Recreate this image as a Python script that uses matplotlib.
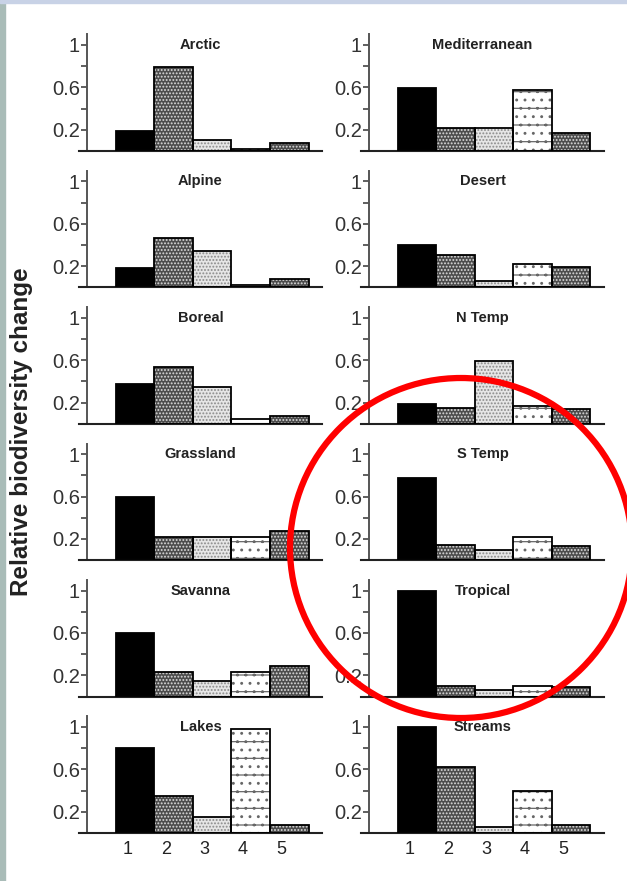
import numpy as np
import matplotlib
matplotlib.use('Agg')
import matplotlib.pyplot as plt
from matplotlib.patches import Ellipse, Rectangle

plt.rcParams['font.family'] = ['Liberation Sans', 'DejaVu Sans']
plt.rcParams['hatch.linewidth'] = 0.9

# panel order: row by row, left then right
biomes = ['Arctic', 'Mediterranean', 'Alpine', 'Desert', 'Boreal', 'N Temp',
          'Grassland', 'S Temp', 'Savanna', 'Tropical', 'Lakes', 'Streams']
drivers = [1, 2, 3, 4, 5]
arctic = [0.19, 0.79, 0.10, 0.02, 0.08]
mediterranean = [0.59, 0.22, 0.22, 0.58, 0.17]
alpine = [0.18, 0.47, 0.34, 0.02, 0.08]
desert = [0.40, 0.31, 0.06, 0.22, 0.19]
boreal = [0.38, 0.54, 0.35, 0.05, 0.07]
n_temp = [0.19, 0.15, 0.59, 0.17, 0.14]
grassland = [0.60, 0.22, 0.22, 0.22, 0.28]
s_temp = [0.78, 0.14, 0.10, 0.22, 0.13]
savanna = [0.60, 0.23, 0.15, 0.23, 0.29]
tropical = [1.0, 0.10, 0.06, 0.10, 0.09]
lakes = [0.80, 0.35, 0.15, 0.98, 0.08]
streams = [1.0, 0.62, 0.06, 0.40, 0.08]
values = [arctic, mediterranean, alpine, desert, boreal, n_temp,
          grassland, s_temp, savanna, tropical, lakes, streams]

# fill style of each driver: face, hatch, hatch colour
faces = ['black', '#4c4c4c', '#e6e6e6', 'white', '#4c4c4c']
hatches = [None, '.....', '.....', '-..', '.....']
hcols = ['black', '#dcdcdc', '#8a8a8a', '#666666', '#dcdcdc']

W, H = 627, 881
fig = plt.figure(figsize=(W / 100, H / 100), dpi=100)

# slide frame bits
fig.add_artist(Rectangle((0, 0), 5 / W, 1, transform=fig.transFigure,
                         color='#a9bcb8', zorder=0))
fig.add_artist(Rectangle((0, 1 - 3 / H), 1, 3 / H, transform=fig.transFigure,
                         color='#c8d2e6', zorder=0))

unit_y = 106.0
col_x = [79, 361]
ax_w = 243
for i, (name, vals) in enumerate(zip(biomes, values)):
    row, col = divmod(i, 2)
    base = 151 + row * 136.4
    top = base - 1.1 * unit_y
    ax = fig.add_axes([col_x[col] / W, 1 - base / H, ax_w / W, (base - top) / H])
    ax.set_xlim(-0.45, 5.85)
    ax.set_ylim(0, 1.1)
    for x, v, fc, ht, hc in zip(drivers, vals, faces, hatches, hcols):
        ax.bar(x, v, width=1.0, color=fc, edgecolor=hc, hatch=ht, linewidth=0, zorder=2)
        ax.bar(x, v, width=1.0, fill=False, edgecolor='black', linewidth=1.3, zorder=3)
    for s in ['top', 'right']:
        ax.spines[s].set_visible(False)
    ax.spines['left'].set_position(('data', -0.25))
    ax.spines['left'].set_color('#555555')
    ax.spines['left'].set_linewidth(1.4)
    ax.spines['bottom'].set_color('#222222')
    ax.spines['bottom'].set_linewidth(1.5)
    ax.set_yticks([0, 0.2, 0.4, 0.6, 0.8, 1.0])
    ax.set_yticklabels(['', '0.2', '', '0.6', '', '1'])
    ax.tick_params(axis='y', direction='out', length=4, width=1.2, color='#444444',
                   labelsize=14.5, labelcolor='#333333', pad=1)
    if row == 5:
        ax.set_xticks([d - 0.2 for d in drivers])
        ax.set_xticklabels([str(d) for d in drivers])
        ax.tick_params(axis='x', length=0, labelsize=13, labelcolor='#222222', pad=6)
    else:
        ax.set_xticks([])
    ax.text(2.7, 1.0, name, ha='center', va='center', fontsize=10.5,
            fontweight='bold', color='#222222', zorder=4)
    ax.patch.set_alpha(0)

fig.text(22 / W, 1 - 432 / H, 'Relative biodiversity change', rotation=90,
         ha='center', va='center', fontsize=17.5, fontweight='bold', color='#222222')

fig.add_artist(Ellipse((461 / W, 1 - 548 / H), 342 / W, 340 / H,
                       transform=fig.transFigure, fill=False, edgecolor='#ff0000',
                       linewidth=4.5, zorder=10))

fig.savefig('out.png', dpi=100)
